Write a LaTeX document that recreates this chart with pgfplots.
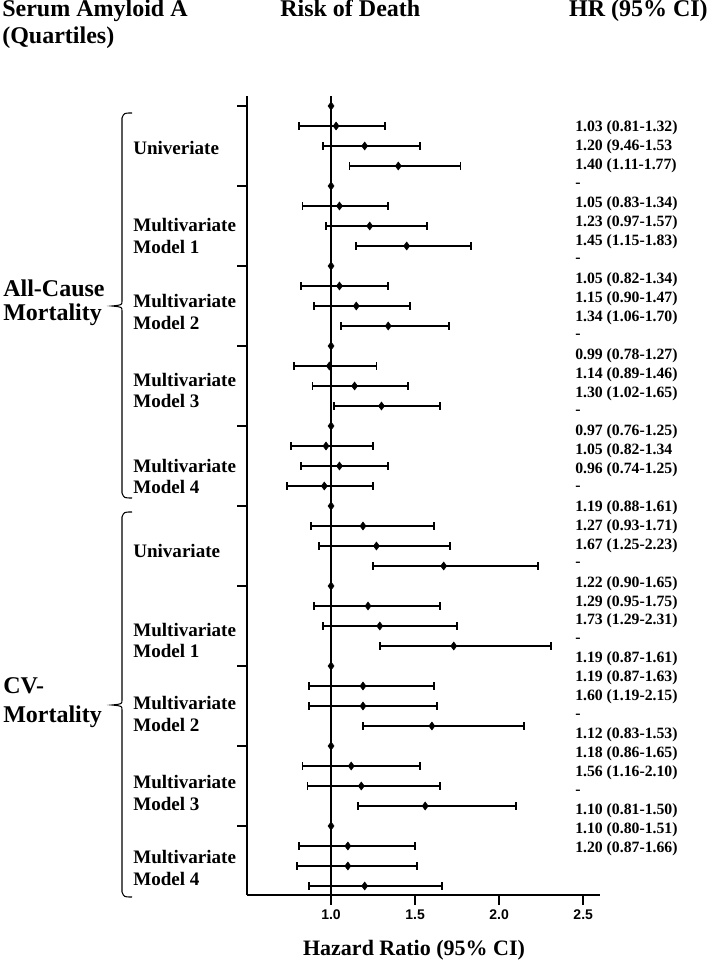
\documentclass[border=0pt]{standalone}
\usepackage{fontspec}
\setmainfont{Liberation Serif}
\newfontfamily\arial{Liberation Sans}
\usepackage{pgfplots}
\pgfplotsset{compat=1.18}
\usepackage{pgfplotstable}

% rows: y = -row; Q1 of every model is the reference (HR = 1)
\pgfplotstableread{
y    hr    lo    hi
-1   1.03  0.81  1.32
-2   1.20  0.95  1.53
-3   1.40  1.11  1.77
-5   1.05  0.83  1.34
-6   1.23  0.97  1.57
-7   1.45  1.15  1.83
-9   1.05  0.82  1.34
-10  1.15  0.90  1.47
-11  1.34  1.06  1.70
-13  0.99  0.78  1.27
-14  1.14  0.89  1.46
-15  1.30  1.02  1.65
-17  0.97  0.76  1.25
-18  1.05  0.82  1.34
-19  0.96  0.74  1.25
-21  1.19  0.88  1.61
-22  1.27  0.93  1.71
-23  1.67  1.25  2.23
-25  1.22  0.90  1.65
-26  1.29  0.95  1.75
-27  1.73  1.29  2.31
-29  1.19  0.87  1.61
-30  1.19  0.87  1.63
-31  1.60  1.19  2.15
-33  1.12  0.83  1.53
-34  1.18  0.86  1.65
-35  1.56  1.16  2.10
-37  1.10  0.81  1.50
-38  1.10  0.80  1.51
-39  1.20  0.87  1.66
}\estimates

\pgfplotstableread{
y    hr
0    1
-4   1
-8   1
-12  1
-16  1
-20  1
-24  1
-28  1
-32  1
-36  1
}\reference

\begin{document}
\begin{tikzpicture}
\begin{axis}[
  at={(185.25pt,48.75pt)}, anchor=south west,
  scale only axis, width=264.75pt, height=599.25pt,
  xmin=0.5, xmax=2.6, ymin=-39.45, ymax=0.5,
  axis lines=left, axis line style={-, line width=1.5pt},
  xtick={1,1.5,2,2.5}, xticklabels={1.0,1.5,2.0,2.5},
  ytick={0,-4,-8,-12,-16,-20,-24,-28,-32,-36}, yticklabels={},
  tick align=outside, major tick length=7.5pt,
  tick style={line width=1.5pt, black},
  xticklabel style={font=\arial\bfseries\fontsize{10.5}{11}\selectfont},
  clip=false,
]
\draw[line width=1.5pt] (axis cs:1,0.5) -- (axis cs:1,-39.45);
\addplot[only marks, mark=diamond*, mark size=3pt, black,
  error bars/.cd, x dir=both, x explicit,
  error bar style={line width=1.4pt},
  error mark options={rotate=90, line width=1.4pt, mark size=2.8pt, black}]
  table[x=hr, y=y,
        x error plus expr=\thisrow{hi}-\thisrow{hr},
        x error minus expr=\thisrow{hr}-\thisrow{lo}] {\estimates};
\addplot[only marks, mark=diamond*, mark size=3pt, black]
  table[x=hr, y=y] {\reference};
\end{axis}

\begin{scope}[shift={(0pt,720pt)}, x=0.75pt, y=-0.75pt]
\path[use as bounding box] (0,0) rectangle (709,960);
\tikzset{big/.style={font=\fontsize{18}{18}\selectfont\bfseries, inner sep=0pt},
         mid/.style={font=\fontsize{14.3}{14.3}\selectfont\bfseries, inner sep=0pt, anchor=base west},
         hr/.style={font=\fontsize{11.8}{11.8}\selectfont\bfseries, inner sep=0pt, anchor=west}}
% headers
\node[big, anchor=base west] at (2,17) {Serum Amyloid A};
\node[big, anchor=base west] at (2,44) {(Quartiles)};
\node[big, anchor=base west] at (280,17) {Risk of Death};
\node[big, anchor=base east] at (708,17) {HR (95\% CI)};
\node[font=\fontsize{16.5}{16.5}\selectfont\bfseries, inner sep=0pt, anchor=base] at (414,956) {Hazard Ratio (95\% CI)};
% outcome labels
\node[big, anchor=base west] at (3,297) {All-Cause};
\node[big, anchor=base west] at (3,321) {Mortality};
\node[big, anchor=base west] at (3,694) {CV-};
\node[big, anchor=base west] at (3,723) {Mortality};
% brackets
\draw[line width=0.8pt] (132,113) .. controls (124,113) .. (122,118) -- (122,301)
  .. controls (122,305) .. (112,306) .. controls (122,307) .. (122,311) -- (122,493)
  .. controls (124,498) .. (132,498);
\draw[line width=0.8pt] (132,512) .. controls (124,512) .. (122,517) -- (122,700)
  .. controls (122,704) .. (112,705) .. controls (122,706) .. (122,710) -- (122,892)
  .. controls (124,897) .. (132,897);
% model labels
\node[mid] at (133,155) {Univeriate};
\node[mid] at (133,232) {Multivariate};
\node[mid] at (133,254) {Model 1};
\node[mid] at (133,308) {Multivariate};
\node[mid] at (133,330) {Model 2};
\node[mid] at (133,387) {Multivariate};
\node[mid] at (133,408) {Model 3};
\node[mid] at (133,473) {Multivariate};
\node[mid] at (133,494) {Model 4};
\node[mid] at (133,558) {Univariate};
\node[mid] at (133,637) {Multivariate};
\node[mid] at (133,658) {Model 1};
\node[mid] at (133,710) {Multivariate};
\node[mid] at (133,732) {Model 2};
\node[mid] at (133,789) {Multivariate};
\node[mid] at (133,811) {Model 3};
\node[mid] at (133,864) {Multivariate};
\node[mid] at (133,886) {Model 4};
% HR column
\foreach \t [count=\k] in {
1.03 (0.81-1.32), 1.20 (9.46-1.53, 1.40 (1.11-1.77), -,
1.05 (0.83-1.34), 1.23 (0.97-1.57), 1.45 (1.15-1.83), -,
1.05 (0.82-1.34), 1.15 (0.90-1.47), 1.34 (1.06-1.70), -,
0.99 (0.78-1.27), 1.14 (0.89-1.46), 1.30 (1.02-1.65), -,
0.97 (0.76-1.25), 1.05 (0.82-1.34, 0.96 (0.74-1.25), -,
1.19 (0.88-1.61), 1.27 (0.93-1.71), 1.67 (1.25-2.23), -,
1.22 (0.90-1.65), 1.29 (0.95-1.75), 1.73 (1.29-2.31), -,
1.19 (0.87-1.61), 1.19 (0.87-1.63), 1.60 (1.19-2.15), -,
1.12 (0.83-1.53), 1.18 (0.86-1.65), 1.56 (1.16-2.10), -,
1.10 (0.81-1.50), 1.10 (0.80-1.51), 1.20 (0.87-1.66)}
  \node[hr] at (575,{128+(\k-1)*18.97}) {\t};
\end{scope}
\end{tikzpicture}
\end{document}
